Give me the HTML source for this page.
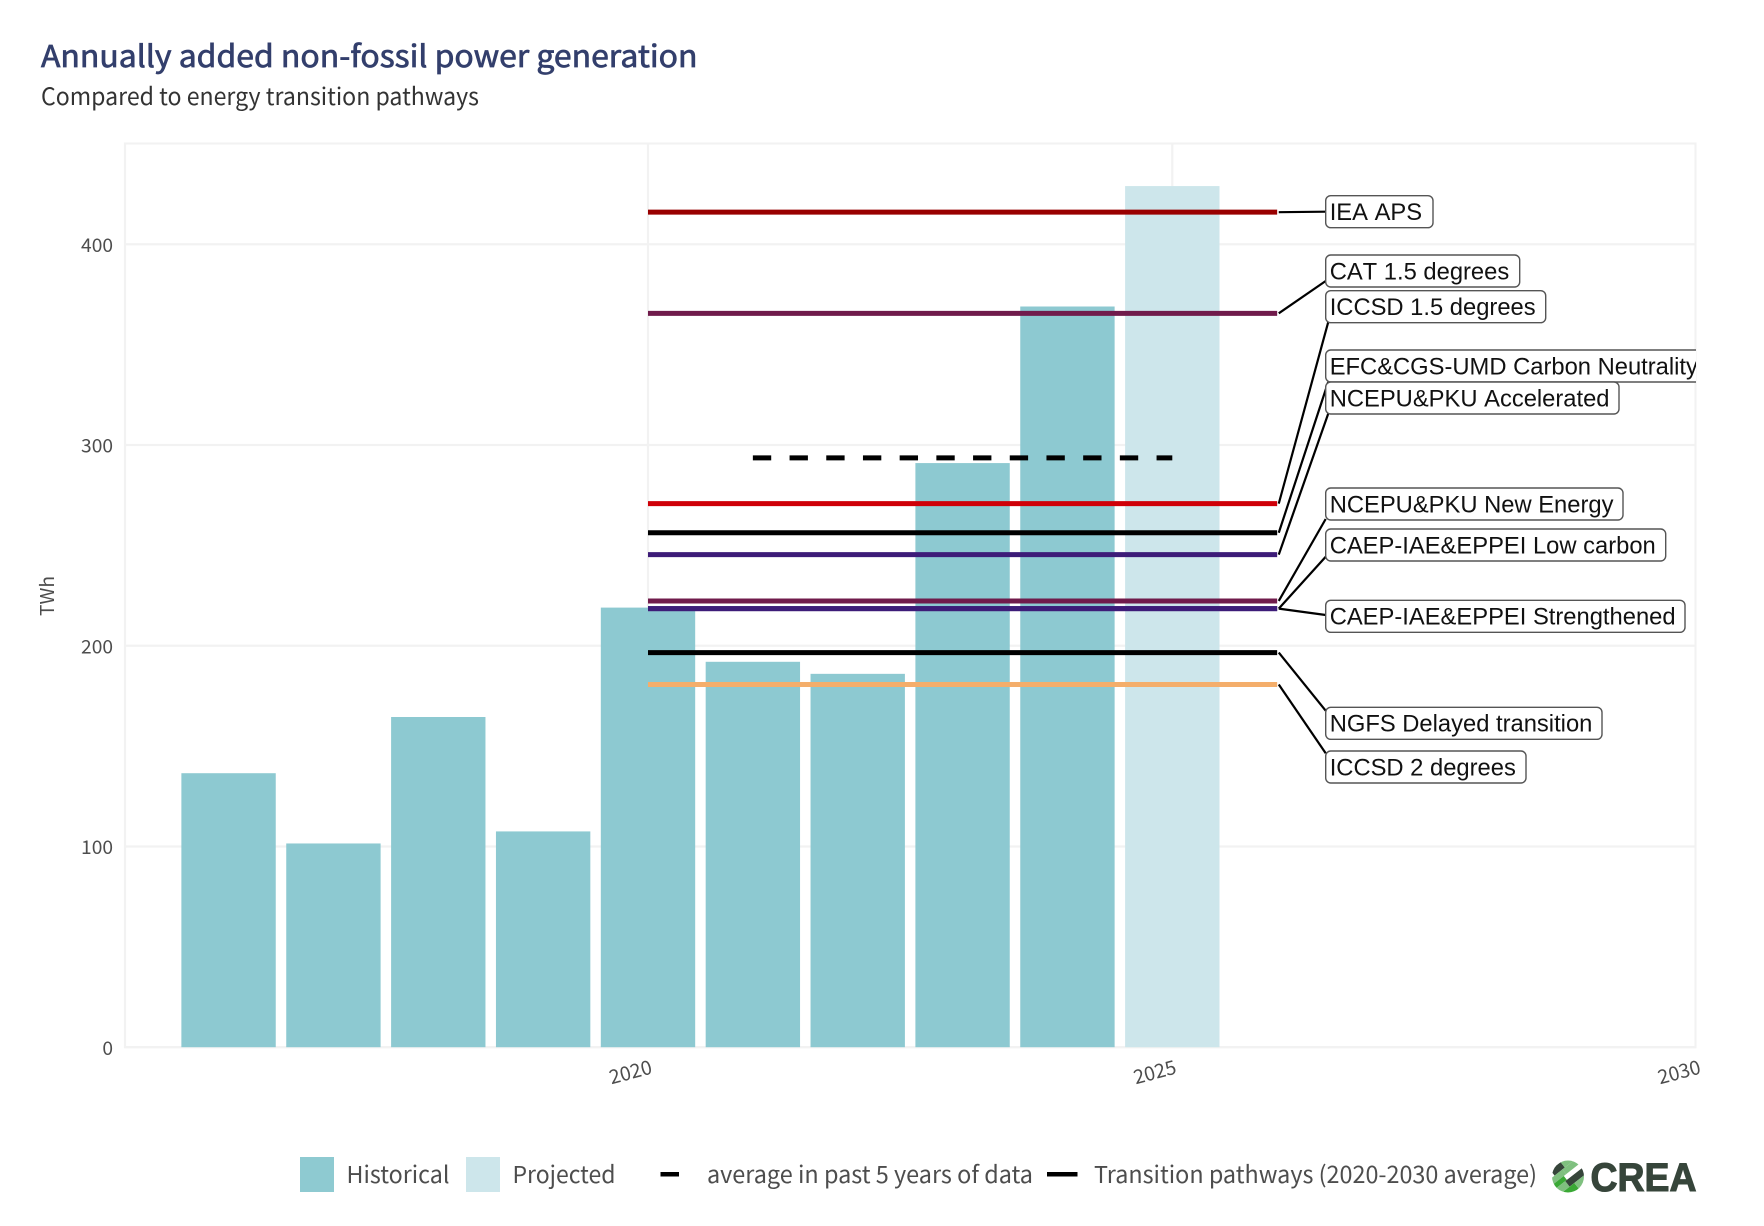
<!DOCTYPE html>
<html lang="en">
<head>
<meta charset="utf-8">
<title>Annually added non-fossil power generation</title>
<style>
  html, body { margin: 0; padding: 0; background: #fff; }
  svg { display: block; filter: blur(0.35px); }
  .src { font-family: "Noto Sans CJK JP", "Liberation Sans", sans-serif; }
  .lab { font-family: "Liberation Sans", sans-serif; font-size: 23.75px; fill: #111; font-kerning: none; }
</style>
</head>
<body>
<svg id="chart" xmlns="http://www.w3.org/2000/svg" width="1764" height="1226" viewBox="0 0 1764 1226">
  <defs>
    <clipPath id="panel-clip"><rect x="0" y="0" width="1696" height="1226"></rect></clipPath>
    <clipPath id="logo-clip"><circle cx="1568" cy="1176.5" r="16"></circle></clipPath>
  </defs>
  <rect width="1764" height="1226" fill="#fff"></rect>
  <text class="src" x="41" y="67" font-size="30" font-weight="400" fill="#333f6c" stroke="#333f6c" stroke-width="0.7" textLength="656.5" lengthAdjust="spacingAndGlyphs">Annually added non-fossil power generation</text>
  <text class="src" x="41" y="105" font-size="24" fill="#333" textLength="438" lengthAdjust="spacingAndGlyphs">Compared to energy transition pathways</text>
  <g id="grid"></g>
  <g id="bars"></g>
  <g id="pathways"></g>
  <g id="connectors"></g>
  <g id="labels" clip-path="url(#panel-clip)"></g>
  <g id="axes"></g>
  <text class="src" x="0" y="0" font-size="19.2" fill="#4d4d4d" text-anchor="middle" transform="translate(54,596) rotate(-90)">TWh</text>

  <g>
    <rect x="300" y="1157" width="34" height="35" fill="#8ecad1"></rect>
    <text class="src" x="346.5" y="1183" font-size="23.5" fill="#4d4d4d" textLength="103" lengthAdjust="spacingAndGlyphs">Historical</text>
    <rect x="466" y="1157" width="34" height="35" fill="#cde6eb"></rect>
    <text class="src" x="512.5" y="1183" font-size="23.5" fill="#4d4d4d" textLength="103" lengthAdjust="spacingAndGlyphs">Projected</text>
    <rect x="660.5" y="1172" width="18.5" height="4.5" fill="#000"></rect>
    <text class="src" x="707" y="1183" font-size="23.5" fill="#4d4d4d" textLength="326" lengthAdjust="spacingAndGlyphs">average in past 5 years of data</text>
    <rect x="1047" y="1172" width="30.5" height="4.5" fill="#000"></rect>
    <text class="src" x="1094" y="1183" font-size="23.5" fill="#4d4d4d" textLength="443" lengthAdjust="spacingAndGlyphs">Transition pathways (2020-2030 average)</text>
  </g>

  <g>
    <g clip-path="url(#logo-clip)">
      <g transform="translate(1568,1176.5) rotate(-38)">
        <rect x="-10" y="-16" width="13" height="7" fill="#36453a"></rect>
        <rect x="3" y="-16" width="13" height="7" fill="#7fc07f"></rect>
        <rect x="-17" y="-9" width="17" height="6" fill="#7fc07f"></rect>
        <rect x="0" y="-9" width="17" height="6" fill="#7fc07f"></rect>
        <rect x="-17" y="-3" width="14" height="5" fill="#3aa935"></rect>
        <rect x="-17" y="2" width="12" height="7" fill="#7fc07f"></rect>
        <rect x="-5" y="2" width="22" height="7" fill="#36453a"></rect>
        <rect x="-14" y="9" width="15" height="8" fill="#3aa935"></rect>
        <rect x="1" y="9" width="15" height="8" fill="#7fc07f"></rect>
      </g>
    </g>
    <text x="1590.5" y="1191" font-family="'Liberation Sans', sans-serif" font-weight="700" font-size="40" fill="#36453a" stroke="#36453a" stroke-width="1.1" textLength="106" lengthAdjust="spacingAndGlyphs">CREA</text>
  </g>
</svg>

<script>
// ---- data ----
const historicalYears = [2016, 2017, 2018, 2019, 2020, 2021, 2022, 2023, 2024];
const historicalValues = [136.5, 101.5, 164.5, 107.5, 219, 192, 186, 291, 369];
const projectedYears = [2025];
const projectedValues = [429];

const pathwayNames = [
  "IEA APS",
  "CAT 1.5 degrees",
  "ICCSD 1.5 degrees",
  "EFC&CGS-UMD Carbon Neutrality",
  "NCEPU&PKU Accelerated",
  "NCEPU&PKU New Energy",
  "CAEP-IAE&EPPEI Low carbon",
  "CAEP-IAE&EPPEI Strengthened",
  "NGFS Delayed transition",
  "ICCSD 2 degrees"
];
const pathwayValues = [416, 365.6, 270.8, 256.3, 245.4, 222.3, 218.5, 218.5, 196.6, 180.7];
const pathwayStartYear = 2020;
const pathwayEndYear = 2026;

const averageStartYear = 2021;
const averageEndYear = 2025;
const averageValue = 293.6;

const yTickValues = [0, 100, 200, 300, 400];
const xTickValues = [2020, 2025, 2030];

// ---- styles and label layout (not data) ----
const pathwayColors = ["#990000", "#701b4b", "#cf0008", "#000000", "#3d1c78", "#701b4b", "#3d1c78", "#3d1c78", "#000000", "#f4ae6b"];
const labelTops = [195.7, 255, 290.7, 350, 382, 488, 529, 600.3, 707.3, 751];
const labelWidths = [107.3, 194, 220, 400, 293.3, 297.3, 340, 359.3, 276.3, 200.3];
const labelAttachX = [0, 0, 2.5, 2.5, 2.5, 0, 0, 0, 0, 0];
const labelAttachY = [16, 26, 31.5, 32, 31.7, 31, 27.7, 14.7, 3.4, 2.3];

// ---- axis functions ----
const PANEL = { left: 125, right: 1695.5, top: 143.5, bottom: 1047.2 };
function x(year) { return 648 + (year - 2020) * 104.86; }
function y(value) { return 1047.2 - value * 2.0073; }
const BAR_WIDTH_YEARS = 0.9;
const LABEL_LEFT = 1325.7;

const NS = "http://www.w3.org/2000/svg";
function make(tag, attrs, parentId) {
  const el = document.createElementNS(NS, tag);
  for (const k in attrs) el.setAttribute(k, attrs[k]);
  document.getElementById(parentId).appendChild(el);
  return el;
}

// grid
yTickValues.forEach(function (v) {
  const el = make("line", { x1: PANEL.left, x2: PANEL.right, y1: y(v), y2: y(v), stroke: "#f2f2f2", "stroke-width": 2.2 }, "grid");
  
  
});
xTickValues.forEach(function (t) {
  if (x(t) > PANEL.right) return;
  const el = make("line", { x1: x(t), x2: x(t), y1: PANEL.top, y2: PANEL.bottom, stroke: "#f2f2f2", "stroke-width": 2.2 }, "grid");
  
  
});
const panelBorder = make("rect", { x: PANEL.left, y: PANEL.top, width: PANEL.right - PANEL.left, height: PANEL.bottom - PANEL.top, fill: "none", stroke: "#f2f2f2", "stroke-width": 2.2 }, "grid");



// bars
function drawBars(years, values, fill, kind) {
  years.forEach(function (yr, i) {
    const w = BAR_WIDTH_YEARS * (x(1) - x(0));
    const el = make("rect", { x: x(yr) - w / 2, y: y(values[i]), width: w, height: y(0) - y(values[i]), fill: fill }, "bars");
    
    
  });
}
drawBars(historicalYears, historicalValues, "#8dc9d1", "historical");
drawBars(projectedYears, projectedValues, "#cde6eb", "projected");

// pathway lines, connectors, labels
pathwayNames.forEach(function (name, i) {
  const slug = name.toLowerCase().replace(/[^a-z0-9]+/g, '-');
  const yy = y(pathwayValues[i]);

  const line = make("line", { x1: x(pathwayStartYear), x2: x(pathwayEndYear), y1: yy, y2: yy, stroke: pathwayColors[i], "stroke-width": 5 }, "pathways");
  
  

  const conn = make("line", {
    x1: x(pathwayEndYear) + 1.6, y1: yy,
    x2: LABEL_LEFT + labelAttachX[i], y2: labelTops[i] + labelAttachY[i],
    stroke: "#000", "stroke-width": 2.2
  }, "connectors");
  
  

  const box = make("rect", { x: LABEL_LEFT, y: labelTops[i], rx: 5, ry: 5, height: 32, width: labelWidths[i], fill: "#fff", stroke: "#555", "stroke-width": 1.4 }, "labels");
  
  

  const txt = make("text", { x: LABEL_LEFT + 4, y: labelTops[i] + 24.3, class: "lab" }, "labels");
  txt.textContent = name;
  
  
});

// dashed average
const avg = make("line", {
  x1: x(averageStartYear), x2: x(averageEndYear), y1: y(averageValue), y2: y(averageValue),
  stroke: "#000", "stroke-width": 5, "stroke-dasharray": "18.35 18.35"
}, "pathways");



// tick labels
yTickValues.forEach(function (v) {
  const el = make("text", { x: 113, y: y(v) + 7.6, "text-anchor": "end", "font-size": 19.2, fill: "#4d4d4d", class: "src" }, "axes");
  el.textContent = v;
  
  
});
xTickValues.forEach(function (t) {
  const cx = x(t) - 17.5;
  const el = make("text", { x: cx, y: 1079, "text-anchor": "middle", "font-size": 19.5, fill: "#4d4d4d", class: "src", transform: "rotate(-15 " + cx + " 1072)" }, "axes");
  el.textContent = t;
  
  
});
</script>
</body>
</html>
